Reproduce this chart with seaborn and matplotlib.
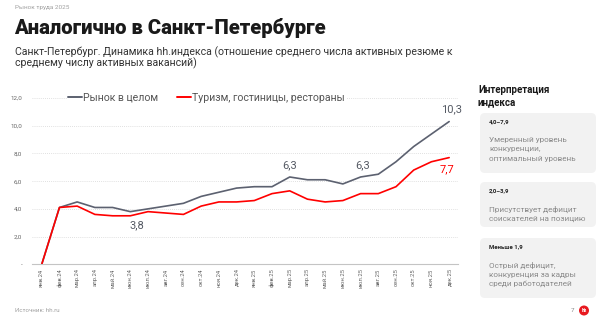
import numpy as np
import pandas as pd
import matplotlib
matplotlib.use('Agg')
import matplotlib.pyplot as plt
from matplotlib.patches import FancyBboxPatch, Circle
import seaborn as sns

# --- data -------------------------------------------------------------
MONTHS = ['янв.24', 'фев.24', 'мар.24', 'апр.24', 'май.24', 'июн.24',
          'июл.24', 'авг.24', 'сен.24', 'окт.24', 'ноя.24', 'дек.24',
          'янв.25', 'фев.25', 'мар.25', 'апр.25', 'май.25', 'июн.25',
          'июл.25', 'авг.25', 'сен.25', 'окт.25', 'ноя.25', 'дек.25']
MARKET = [0.0, 4.1, 4.5, 4.1, 4.1, 3.8, 4.0, 4.2, 4.4, 4.9, 5.2, 5.5,
          5.6, 5.6, 6.3, 6.1, 6.1, 5.8, 6.3, 6.5, 7.4, 8.5, 9.4, 10.3]
TOURISM = [0.0, 4.1, 4.2, 3.6, 3.5, 3.5, 3.8, 3.7, 3.6, 4.2, 4.5, 4.5,
           4.6, 5.1, 5.3, 4.7, 4.5, 4.6, 5.1, 5.1, 5.6, 6.8, 7.4, 7.7]
SERIES = ['Рынок в целом', 'Туризм, гостиницы, рестораны']
YTICKS = [0, 2, 4, 6, 8, 10, 12]
YTICK_LABELS = ['-', '2,0', '4,0', '6,0', '8,0', '10,0', '12,0']
# (series, month index, label) callouts
CALLOUTS = [(0, 5, '3,8'), (0, 14, '6,3'), (0, 18, '6,3'), (0, 23, '10,3'), (1, 23, '7,7')]

BOXES = [
    ('4,0–7,9', ['Умеренный уровень', 'конкуренции,', 'оптимальный уровень']),
    ('2,0–3,9', ['Присутствует дефицит', 'соискателей на позицию']),
    ('Меньше 1,9', ['Острый дефицит,', 'конкуренция за кадры', 'среди работодателей']),
]

GRAY = '#5c6170'
RED = '#ff0000'

sns.set_theme(style='white')
plt.rcParams['font.family'] = ['Roboto', 'DejaVu Sans']

df = pd.DataFrame({
    'idx': list(range(len(MONTHS))) * 2,
    'value': MARKET + TOURISM,
    'series': [SERIES[0]] * len(MONTHS) + [SERIES[1]] * len(MONTHS),
})

fig = plt.figure(figsize=(6, 3.24), dpi=100)
ax = fig.add_axes([32 / 600, 1 - 264.3 / 324, 426 / 600, (264.3 - 98) / 324])

sns.lineplot(data=df, x='idx', y='value', hue='series', hue_order=SERIES,
             palette={SERIES[0]: GRAY, SERIES[1]: RED}, lw=1.2, ax=ax,
             sort=False)

ax.set_xlim(-0.55, 23.5)
ax.set_ylim(0, 12)
ax.set_yticks(YTICKS)
ax.set_yticklabels(YTICK_LABELS)
ax.set_xticks(range(len(MONTHS)))
ax.set_xticklabels(MONTHS, rotation=90)
ax.tick_params(axis='y', length=0, pad=7, labelsize=4.5, labelcolor='#666666')
ax.tick_params(axis='x', length=0, pad=3, labelsize=4.2, labelcolor='#666666')
ax.set_xlabel(''); ax.set_ylabel('')
for s in ['top', 'right', 'left']:
    ax.spines[s].set_visible(False)
ax.spines['bottom'].set_color('#c4c4c4')
ax.spines['bottom'].set_linewidth(0.8)
ax.yaxis.grid(True, color='#d6d6d6', lw=0.6, ls=(0, (1, 1.5)))
ax.set_axisbelow(True)
for gl, v in zip(ax.get_ygridlines(), YTICKS):
    if v == 0:
        gl.set_visible(False)

old = ax.get_legend()
handles = old.legend_handles
labels = [t.get_text() for t in old.texts]
old.remove()
leg = ax.legend(handles, labels, loc='center left', ncol=2,
                bbox_to_anchor=(67 / 600, 1 - 98 / 324), bbox_transform=fig.transFigure,
                frameon=True, facecolor='white', edgecolor='none', framealpha=1,
                fontsize=7.6, handlelength=1.3, handletextpad=0.1,
                columnspacing=1.8, borderpad=0.1, borderaxespad=0)
for t in leg.get_texts():
    t.set_color('#555555')
for h in leg.legend_handles:
    h.set_linewidth(1.4)

series_vals = [MARKET, TOURISM]
offsets = {(0, 5): (5, -9.5), (0, 14): (0, 8.7), (0, 18): (1.4, 8.7),
           (0, 23): (1.4, 8.8), (1, 23): (-1.4, -8.7)}
for si, mi, txt in CALLOUTS:
    ax.annotate(txt, xy=(mi, series_vals[si][mi]), xytext=offsets[(si, mi)],
                textcoords='offset points', ha='center', va='center',
                fontsize=8, color=RED if si == 1 else '#555a64')

# --- decoration in pixel coordinates ---------------------------------
deco = fig.add_axes([0, 0, 1, 1], zorder=-1)
deco.set_xlim(0, 600); deco.set_ylim(324, 0); deco.axis('off')

deco.text(15, 8, 'Рынок труда 2025', fontsize=4.6, color='#a0a0a0', va='center')
deco.text(14, 33.5, 'Аналогично в Санкт-Петербурге', fontsize=14.6, fontweight='heavy',
          color='#1a1a1a', va='baseline')
deco.text(15, 55, 'Санкт-Петербург. Динамика hh.индекса (отношение среднего числа активных резюме к',
          fontsize=7.6, color='#333333', va='baseline')
deco.text(15, 66, 'среднему числу активных вакансий)', fontsize=7.6, color='#333333', va='baseline')

deco.text(478, 93, 'Интерпретация', fontsize=7, fontweight='bold', color='#1a1a1a', va='baseline')
deco.text(478, 105.5, 'индекса', fontsize=7, fontweight='bold', color='#1a1a1a', va='baseline')

box_tops = [113, 182, 238]
box_bots = [173, 227, 298]
for (rng, lines), top, bot in zip(BOXES, box_tops, box_bots):
    deco.add_patch(FancyBboxPatch((480, top), 116, bot - top,
                                  boxstyle='round,pad=0,rounding_size=5',
                                  fc='#f2f2f2', ec='none'))
    deco.text(489, top + 9, rng, fontsize=4.3, fontweight='bold', color='#222222', va='center')
    for k, ln in enumerate(lines):
        deco.text(489, top + 27 + k * 9.5, ln, fontsize=5.9, color='#8a8a8a', va='center')

deco.text(15, 310, 'Источник: hh.ru', fontsize=4.4, color='#a0a0a0', va='center')
deco.text(573, 310.5, '7', fontsize=4.6, color='#888888', va='center', ha='center')
deco.add_patch(Circle((584, 310.5), 5, fc='#e8191f', ec='none'))
deco.text(584, 310.8, 'hh', fontsize=3.4, fontweight='bold', color='white', va='center', ha='center')

fig.savefig('out.png', dpi=100)
